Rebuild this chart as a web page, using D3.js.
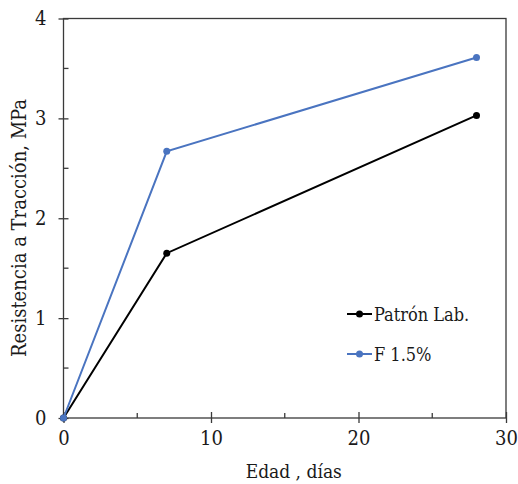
<!DOCTYPE html>
<html><head><meta charset="utf-8">
<script src="https://cdn.jsdelivr.net/npm/d3@7"></script>
<style>body{margin:0;background:#fff}</style>
</head><body><div id="chart"></div>
<script>
const days = [0, 7, 28];
const patron = [0, 1.65, 3.03];
const fibra = [0, 2.67, 3.61];
const seriesNames = ["Patrón Lab.", "F 1.5%"];
const seriesColors = ["#000000", "#4a74c0"];
const xMajor = [0, 10, 20, 30];
const xMinor = [5, 15, 25];
const yMajor = [0, 1, 2, 3, 4];
const yMinor = [0.5, 1.5, 2.5, 3.5];

const FONT = "'DejaVu Serif Condensed', 'DejaVu Serif', serif";
const W = 518, H = 484;
const svg = d3.select("#chart").append("svg").attr("width", W).attr("height", H)
  .attr("font-family", FONT);
const x = d3.scaleLinear().domain([0, 30]).range([63.5, 506]);
const y = d3.scaleLinear().domain([0, 4]).range([418, 18.5]);
const axisColor = "#3a3a3a";
const textColor = "#1a1a1a";

svg.append("rect").attr("x", x(0)).attr("y", y(4)).attr("width", x(30) - x(0)).attr("height", y(0) - y(4))
  .attr("fill", "none").attr("stroke", axisColor).attr("stroke-width", 1.3);

const xa = svg.append("g").attr("transform", `translate(0,${y(0)})`)
  .call(d3.axisBottom(x).tickValues(xMajor).tickSize(5).tickPadding(8).tickFormat(d3.format("d")));
xa.attr("font-family", FONT);
xa.select(".domain").remove();
xa.selectAll(".tick line").attr("y1", -6).attr("y2", 5).attr("stroke", axisColor).attr("stroke-width", 1.3);
xa.selectAll(".tick text").attr("font-size", 20).attr("fill", textColor).attr("font-family", FONT);
svg.append("g").selectAll("line").data(xMinor).join("line")
  .attr("x1", d => x(d)).attr("x2", d => x(d)).attr("y1", y(0) - 5).attr("y2", y(0))
  .attr("stroke", axisColor).attr("stroke-width", 1.3);

const ya = svg.append("g").attr("transform", `translate(${x(0)},0)`)
  .call(d3.axisLeft(y).tickValues(yMajor).tickSize(5).tickPadding(12).tickFormat(d3.format("d")));
ya.attr("font-family", FONT);
ya.select(".domain").remove();
ya.selectAll(".tick line").attr("x1", -5).attr("x2", 5).attr("stroke", axisColor).attr("stroke-width", 1.3);
ya.selectAll(".tick text").attr("font-size", 20).attr("fill", textColor).attr("font-family", FONT);
svg.append("g").selectAll("line").data(yMinor).join("line")
  .attr("y1", d => y(d)).attr("y2", d => y(d)).attr("x1", x(0)).attr("x2", x(0) + 5)
  .attr("stroke", axisColor).attr("stroke-width", 1.3);

svg.append("text").attr("x", (x(0) + x(30)) / 2 + 9).attr("y", 478).attr("text-anchor", "middle")
  .attr("font-size", 19).attr("fill", textColor).attr("font-family", FONT).text("Edad , días");
svg.append("text").attr("transform", `translate(26,228) rotate(-90)`).attr("text-anchor", "middle")
  .attr("font-size", 20).attr("fill", textColor).attr("font-family", FONT).text("Resistencia a Tracción, MPa");

const series = [patron, fibra];
const line = d3.line().x((d, i) => x(days[i])).y(d => y(d));
series.forEach((vals, k) => {
  svg.append("path").datum(vals).attr("d", line).attr("fill", "none")
    .attr("stroke", seriesColors[k]).attr("stroke-width", 2);
  svg.append("g").selectAll("circle").data(vals).join("circle")
    .attr("cx", (d, i) => x(days[i])).attr("cy", d => y(d)).attr("r", 3.5).attr("fill", seriesColors[k]);
});

const lg = svg.append("g");
seriesNames.forEach((n, k) => {
  const ly = 314 + k * 40;
  lg.append("line").attr("x1", 347).attr("x2", 372).attr("y1", ly).attr("y2", ly)
    .attr("stroke", seriesColors[k]).attr("stroke-width", 2);
  lg.append("circle").attr("cx", 359.5).attr("cy", ly).attr("r", 3.5).attr("fill", seriesColors[k]);
  lg.append("text").attr("x", 374).attr("y", ly + 7).attr("font-size", 18).attr("fill", textColor)
    .attr("font-family", FONT).text(n);
});
</script></body></html>
